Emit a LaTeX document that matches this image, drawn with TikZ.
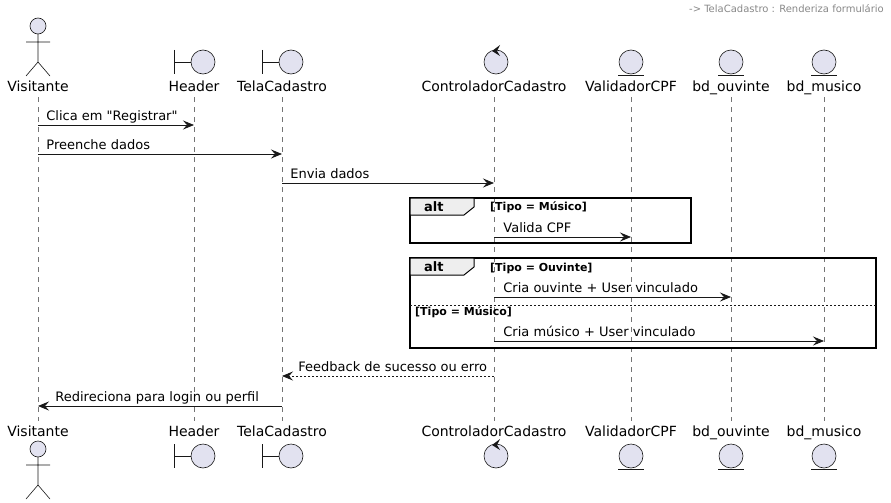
\documentclass[tikz,border=0pt]{standalone}
\usepackage{fontspec}
\setmainfont{DejaVu Sans}[Ligatures=TeXOff]
\usetikzlibrary{arrows.meta}
\definecolor{partfill}{HTML}{E2E2F0}
\definecolor{partline}{HTML}{181818}
\definecolor{tabfill}{HTML}{EEEEEE}
\definecolor{notegray}{HTML}{888888}
\begin{document}
\begin{tikzpicture}[x=1pt,y=-1pt]
        \tikzstyle{part}=[font=\fontsize{14}{16}\selectfont, inner sep=0pt, anchor=base]
        \tikzstyle{icon}=[draw=partline, fill=partfill, line width=0.6pt]
        \tikzstyle{life}=[draw=partline!60, dash pattern=on 5pt off 5pt, line width=0.5pt]
        \tikzstyle{msg}=[draw=partline, line width=0.8pt, -{Stealth[length=11pt,width=9pt,inset=4pt]}]
        \tikzstyle{reply}=[msg, dash pattern=on 2pt off 2pt]
        \tikzstyle{txt}=[font=\fontsize{13}{15}\selectfont, inner sep=0pt, anchor=base west]
        \tikzstyle{frame}=[draw=black, line width=1.5pt]
        \tikzstyle{guard}=[font=\bfseries\fontsize{11}{13}\selectfont, inner sep=0pt, anchor=base west]

        \useasboundingbox (0,0) rectangle (891,503);

        \node[font=\fontsize{10}{12}\selectfont, text=notegray, inner sep=0pt, anchor=base east] (note) at (884,13) {-> TelaCadastro : Renderiza formulário};

        % participantes e linhas de vida
        \foreach \name/\x/\lbl in {vis/38/Visitante, hea/194/Header, tel/282/TelaCadastro, con/494/ControladorCadastro, val/631/ValidadorCPF, ouv/731/bd\_ouvinte, mus/824/bd\_musico} {
            \node[part] (\name-top) at (\x,92) {\lbl};
            \node[part] (\name-bot) at (\x,436) {\lbl};
            \draw[life] (\name-top |- 0,97) -- (\name-bot |- 0,421);
        }

        % icones
        \foreach \yh in {26,449} {
            \draw[icon] (38,\yh) circle (8);
            \draw[partline, line width=0.6pt] (38,\yh+8) -- (38,\yh+36) (26,\yh+16) -- (50,\yh+16)
                (26,\yh+50) -- (38,\yh+36) -- (50,\yh+50);
        }
        \foreach \yc in {62,456} {
            \foreach \x in {194,282} {
                \draw[partline, line width=0.6pt] (\x-20,\yc-12) -- (\x-20,\yc+12) (\x-20,\yc) -- (\x-3,\yc);
                \draw[icon] (\x+9,\yc) circle (12);
            }
            \draw[icon] (496,\yc) circle (12);
            \fill[partline] (492,\yc-11) -- (500,\yc-17) -- (497,\yc-11) -- (500,\yc-6) -- cycle;
            \foreach \x in {631,731,824} {
                \draw[icon] (\x,\yc) circle (12);
                \draw[partline, line width=0.6pt] (\x-13,\yc+13) -- (\x+13,\yc+13);
            }
        }

        % mensagens
        \draw[msg] (vis-top |- 0,125) -- (hea-top |- 0,125) node[txt, at start, xshift=8pt, yshift=5pt] (m1) {Clica em "Registrar"};
        \draw[msg] (vis-top |- 0,154) -- (tel-top |- 0,154) node[txt, at start, xshift=8pt, yshift=5pt] (m2) {Preenche dados};
        \draw[msg] (tel-top |- 0,183) -- (con-top |- 0,183) node[txt, at start, xshift=8pt, yshift=5pt] (m3) {Envia dados};

        % alt 1
        \draw[frame] (410,198) rectangle (691,243);
        \draw[frame, line width=1pt, fill=tabfill] (410,198) -- (474,198) -- (474,207) -- (464,215) -- (410,215) -- cycle;
        \node[guard, font=\bfseries\fontsize{13}{15}\selectfont] (alt1) at (424,211) {alt};
        \node[guard] (g1) at (490,210) {[Tipo = Músico]};
        \draw[msg] (con-top |- 0,237) -- (val-top |- 0,237) node[txt, at start, xshift=9pt, yshift=5pt] (m4) {Valida CPF};

        % alt 2
        \draw[frame] (410,258) rectangle (876,348);
        \draw[frame, line width=1pt, fill=tabfill] (410,258) -- (474,258) -- (474,267) -- (464,275) -- (410,275) -- cycle;
        \node[guard, font=\bfseries\fontsize{13}{15}\selectfont] (alt2) at (424,271) {alt};
        \node[guard] (g2) at (490,271) {[Tipo = Ouvinte]};
        \draw[msg] (con-top |- 0,297) -- (ouv-top |- 0,297) node[txt, at start, xshift=9pt, yshift=5pt] (m5) {Cria ouvinte + User vinculado};
        \draw[partline, line width=0.8pt, dash pattern=on 2pt off 2pt] (410,305) -- (876,305);
        \node[guard] (g3) at (415,315) {[Tipo = Músico]};
        \draw[msg] (con-top |- 0,341) -- (mus-top |- 0,341) node[txt, at start, xshift=9pt, yshift=5pt] (m6) {Cria músico + User vinculado};

        \draw[reply] (con-top |- 0,376) -- (tel-top |- 0,376) node[txt, at end, xshift=16pt, yshift=5pt] (m7) {Feedback de sucesso ou erro};
        \draw[msg] (tel-top |- 0,406) -- (vis-top |- 0,406) node[txt, at end, xshift=17pt, yshift=5pt] (m8) {Redireciona para login ou perfil};
    \end{tikzpicture}
\end{document}
